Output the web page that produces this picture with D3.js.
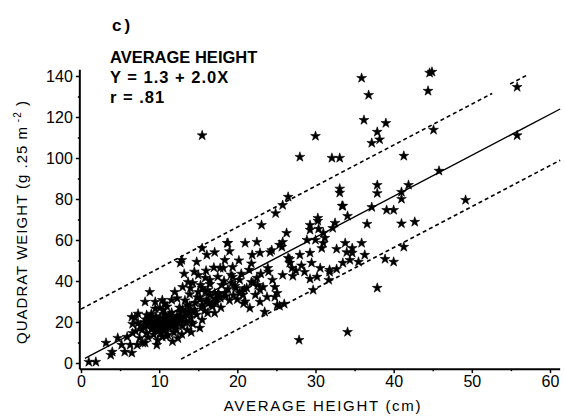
<!DOCTYPE html>
<html><head><meta charset="utf-8">
<script src="https://cdn.jsdelivr.net/npm/d3@7"></script>
<style>
html,body{margin:0;padding:0;background:#fff;}
svg{display:block;font-family:"Liberation Sans",Arial,Helvetica,sans-serif;}
</style></head>
<body><svg id="chart" width="565" height="417"></svg>
<script>
// ---- data ----
const panelLabel = "c)";
const titleLines = ["AVERAGE HEIGHT", "Y = 1.3 + 2.0X", "r = .81"];
const xTicks = [0, 10, 20, 30, 40, 50, 60];
const yTicks = [0, 20, 40, 60, 80, 100, 120, 140];
const xTitle = "AVERAGE HEIGHT  (cm)";
const intercept = 1.3, slope = 2.0, band = 25;

const heights = [
1.0,1.9,3.2,3.8,4.7,5.2,5.6,5.9,6.5,7.2,6.6,7.5,8.2,9.7,10.4,4.0,6.3,7.9,6.5,6.9,6.6,7.3,7.8,8.4,8.8,8.2,9.5,10.4,11.6,12.0,10.1,8.4,9.1,9.8,11.1,12.7,13.6,13.0,13.7,14.3,15.0,15.9,12.7,12.9,14.8,16.1,17.1,15.0,15.2,16.2,17.1,14.6,15.5,16.2,17.8,18.2,18.4,18.7,13.0,13.9,15.5,
8.0,8.5,8.8,9.0,9.2,9.4,9.6,9.8,10.0,10.1,10.3,10.5,10.6,10.8,11.0,11.1,11.3,11.5,11.6,11.8,12.0,12.2,12.3,12.5,12.8,13.0,13.2,13.5,13.8,14.0,14.3,14.5,14.8,9.0,9.5,8.6,9.3,10.2,10.9,11.9,12.4,12.6,13.3,11.0,10.7,9.9,10.4,11.4,12.1,8.3,7.6,7.0,7.3,13.6,14.1,11.7,12.9,15.5,16.0,14.9,13.9,12.3,16.8,17.3,16.5,17.5,18.0,18.8,19.0,19.5,14.0,15.3,16.0,17.0,14.5,13.2,16.5,15.8,17.9,
8.7,9.1,9.6,10.2,10.7,11.2,11.8,12.4,8.9,9.8,10.6,11.5,12.2,13.1,9.3,10.0,10.9,11.7,12.7,13.4,14.2,10.5,11.3,12.0,9.7,8.1,13.9,14.6,15.2,16.3,17.6,18.5,19.7,20.9,21.8,18.3,19.2,20.6,17.2,16.7,
18.8,21.0,22.5,25.4,24.2,21.9,22.9,26.7,17.8,19.4,21.5,22.5,23.9,19.4,19.3,20.3,16.5,18.4,15.9,17.8,20.3,22.0,22.6,22.9,23.3,22.3,23.8,24.8,25.1,22.9,16.9,17.5,15.5,16.1,15.5,21.6,23.5,17.1,20.7,21.2,23.1,26.5,25.8,20.0,21.0,19.8,20.5,21.8,20.2,19.0,24.5,24.0,23.0,20.8,
33.5,34.1,37.2,39.1,40.0,41.0,42.7,36.6,30.3,29.3,29.3,30.4,31.0,32.5,32.2,26.3,28.9,30.0,31.2,31.0,30.8,25.8,25.7,24.4,33.8,34.7,35.9,32.7,34.0,36.3,34.7,34.4,35.5,33.5,29.3,29.5,28.0,26.5,26.7,27.0,27.1,25.8,30.6,31.8,32.7,28.6,29.3,30.2,31.8,31.7,29.7,24.8,25.1,25.4,26.0,38.9,40.0,41.3,37.9,34.1,27.9,27.5,28.2,
35.9,36.8,44.6,44.9,44.4,36.2,39.0,37.9,37.2,38.2,30.0,28.0,32.1,33.1,41.3,33.1,33.1,37.9,37.9,41.9,41.0,41.0,33.4,30.3,45.1,45.8,49.2,55.8,55.8,15.5,24.9
];
const weights = [
0.5,0.5,9.8,3.9,12.2,8.8,5.4,12.7,4.9,8.8,14.6,12.2,9.8,8.8,12.7,5.4,8.8,9.8,22.4,22.0,19.0,19.5,16.1,14.6,34.6,29.8,29.8,30.7,30.7,34.6,26.8,23.4,22.4,11.2,13.7,24.9,28.3,37.0,39.5,39.0,42.9,41.5,48.8,50.2,49.3,52.7,54.0,34.6,17.1,35.6,34.1,29.3,28.3,24.4,32.2,46.3,50.2,58.5,25.9,24.4,56.0,
17.5,18.5,20.0,16.5,19.0,21.0,17.8,15.5,19.5,22.0,18.0,20.5,16.0,23.5,19.0,21.5,17.0,20.0,24.5,18.5,21.0,16.5,23.0,19.5,21.5,18.0,22.5,20.0,25.5,22.0,19.0,26.0,23.5,24.0,26.5,12.5,13.8,14.5,13.0,14.8,12.0,27.0,30.5,27.5,29.0,18.8,17.2,22.6,19.8,21.2,18.2,15.5,24.0,16.0,15.0,10.5,14.0,21.0,30.0,32.0,33.5,31.5,27.5,29.5,38.5,42.0,38.0,36.0,30.5,33.0,36.5,38.0,45.0,46.5,44.5,43.5,33.0,25.5,27.0,
19.2,16.8,22.8,18.7,20.8,17.6,19.9,21.8,21.5,19.8,23.8,18.2,22.0,20.3,20.6,18.9,17.3,22.3,21.8,24.2,19.7,25.8,23.3,17.1,16.0,20.0,27.8,25.0,31.0,29.0,34.0,32.5,37.5,36.0,39.5,40.0,43.0,35.0,31.5,28.5,
58.5,58.5,59.0,57.6,54.0,52.7,53.7,50.7,46.3,46.8,45.4,41.5,46.3,42.0,39.0,40.5,40.5,34.1,34.6,31.7,34.1,39.0,38.0,35.6,37.0,33.2,32.2,32.2,28.3,29.8,29.3,33.2,36.6,30.7,27.3,26.8,24.9,24.4,33.2,36.6,67.3,81.0,77.0,31.0,30.0,36.5,43.5,48.5,50.0,54.5,40.5,44.5,43.5,29.0,
76.6,71.7,76.0,74.6,74.6,68.0,68.8,67.8,69.3,67.3,64.9,65.4,63.4,68.3,65.8,63.4,60.0,60.0,61.0,58.5,56.0,59.0,56.6,55.0,58.5,56.0,58.5,55.6,54.0,52.7,53.7,50.2,49.3,48.8,53.7,48.8,52.7,51.2,48.8,46.3,42.4,42.9,46.3,45.4,45.8,44.4,41.0,42.0,44.4,40.5,35.6,37.0,34.1,27.8,28.8,50.7,49.3,56.6,36.6,15.1,11.2,45.0,47.5,
139.0,130.7,141.5,142.0,132.7,118.5,117.0,112.7,107.3,109.0,110.7,100.5,100.0,100.0,101.0,85.0,83.0,86.8,82.8,86.8,83.4,80.0,76.6,70.7,113.7,93.7,79.5,134.6,111.0,111.0,73.0
];

// ---- layout ----
const svg = d3.select("#chart");
const x = d3.scaleLinear().domain([0, 60]).range([81, 550]);
const y = d3.scaleLinear().domain([0, 140]).range([363, 76]);
const xMin = -0.15, xMax = 61.3, yMin = -3, yMax = 143;

// regression lines
const line = d3.line().x(d => x(d[0])).y(d => y(d[1]));
const f = (X, off) => intercept + slope * X + off;
svg.append("path").attr("d", line([[0.5, f(0.5, 0)], [xMax, f(xMax, 0)]]))
  .attr("fill", "none").attr("stroke", "#000").attr("stroke-width", 1.4);
[[0, 52.6], [54.9, 57.2]].forEach(seg => {
  svg.append("path").attr("d", line(seg.map(X => [X, f(X, band)])))
    .attr("fill", "none").attr("stroke", "#000").attr("stroke-width", 1.6)
    .attr("stroke-dasharray", "4,3");
});
svg.append("path").attr("d", line([[12.8, f(12.8, -band)], [xMax, f(xMax, -band)]]))
  .attr("fill", "none").attr("stroke", "#000").attr("stroke-width", 1.6)
  .attr("stroke-dasharray", "4,3");

// points
const sym = d3.symbol().type(d3.symbolStar).size(30);
svg.append("g").selectAll("path").data(heights.map((h, i) => [h, weights[i]]))
  .join("path")
  .attr("transform", d => `translate(${x(d[0])},${y(d[1])})`)
  .attr("d", sym).attr("fill", "#000").attr("stroke", "#000").attr("stroke-width", 0.6);

// axes
const axColor = "#000";
svg.append("line").attr("x1", x(xMin)).attr("x2", x(xMin))
  .attr("y1", y(yMin)).attr("y2", y(yMax)).attr("stroke", axColor).attr("stroke-width", 2);
svg.append("line").attr("x1", x(xMin)).attr("x2", x(xMax))
  .attr("y1", y(yMin)).attr("y2", y(yMin)).attr("stroke", axColor).attr("stroke-width", 2);

const gy = svg.append("g").attr("transform", `translate(${x(xMin)},0)`)
  .call(d3.axisLeft(y).tickValues(yTicks).tickSize(4).tickPadding(3));
const gyMinor = svg.append("g").attr("transform", `translate(${x(xMin)},0)`)
  .call(d3.axisLeft(y).tickValues(d3.range(10, 140, 20)).tickSize(2).tickFormat(""));
const gx = svg.append("g").attr("transform", `translate(0,${y(yMin)})`)
  .call(d3.axisBottom(x).tickValues(xTicks).tickSize(4).tickPadding(2));
const gxMinor = svg.append("g").attr("transform", `translate(0,${y(yMin)})`)
  .call(d3.axisBottom(x).tickValues(d3.range(5, 60, 10)).tickSize(2).tickFormat(""));
[gy, gx, gyMinor, gxMinor].forEach(g => {
  g.select(".domain").remove();
  g.selectAll(".tick line").attr("stroke", "#000").attr("stroke-width", 1.5);
  g.selectAll("text").attr("fill", "#000").style("font-size", "16px")
    .style("font-family", "'Liberation Sans',Arial,sans-serif");
});

// axis titles
svg.append("text").attr("x", 323).attr("y", 411).attr("text-anchor", "middle")
  .style("font-size", "15px").style("letter-spacing", "1.7px").text(xTitle);
const yt = svg.append("text").attr("transform", "translate(27,222) rotate(-90)")
  .attr("text-anchor", "middle").style("font-size", "15px").style("letter-spacing", "1px");
yt.append("tspan").text("QUADRAT WEIGHT (g  .25 m");
yt.append("tspan").attr("dy", -6).style("font-size", "10px").text(" -2");
yt.append("tspan").attr("dy", 6).text(" )");

// panel label and equation
svg.append("text").attr("x", 112).attr("y", 31).style("font-size", "17px")
  .style("font-weight", "bold").style("letter-spacing", "3px").text(panelLabel);
titleLines.forEach((t, i) => {
  svg.append("text").attr("x", 110).attr("y", 63 + i * 20).style("font-size", "16.5px")
    .style("font-weight", "bold").style("letter-spacing", i === 0 ? "0px" : "1px").text(t);
});
</script></body></html>
